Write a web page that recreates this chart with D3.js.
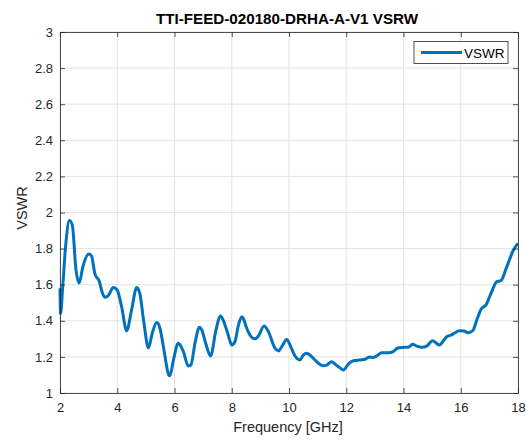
<!DOCTYPE html>
<html>
<head>
<meta charset="utf-8">
<script src="https://cdn.jsdelivr.net/npm/d3@7"></script>
<style>
body{margin:0;background:#fff;}
svg{display:block;font-family:"Liberation Sans",Arial,sans-serif;}
</style>
</head>
<body>
<div id="chart"></div>
<script>
// data
var freq=[2.0,2.02,2.1,2.2,2.33,2.43,2.56,2.67,2.8,3.0,3.1,3.22,3.37,3.47,3.57,3.69,3.86,4.0,4.15,4.33,4.5,4.68,4.79,4.93,5.09,5.22,5.38,5.49,5.63,5.8,5.84,5.96,6.13,6.31,6.48,6.57,6.72,6.87,6.95,7.1,7.26,7.45,7.61,7.71,7.86,8.0,8.11,8.24,8.35,8.4,8.52,8.64,8.81,8.93,9.13,9.28,9.51,9.63,9.75,9.92,10.06,10.21,10.38,10.5,10.62,10.73,10.97,11.2,11.32,11.49,11.61,11.76,11.9,12.07,12.25,12.48,12.66,12.83,12.94,13.06,13.24,13.47,13.64,13.78,13.88,14.05,14.17,14.32,14.46,14.64,14.81,15.02,15.25,15.51,15.65,15.8,15.95,16.11,16.26,16.42,16.56,16.71,16.88,17.08,17.26,17.4,17.61,17.84,18.0];
var vswr=[1.58,1.44,1.6,1.82,1.955,1.93,1.68,1.61,1.7,1.77,1.76,1.66,1.62,1.56,1.53,1.54,1.585,1.57,1.48,1.345,1.46,1.585,1.55,1.39,1.25,1.33,1.39,1.36,1.24,1.1,1.095,1.18,1.275,1.23,1.15,1.155,1.28,1.364,1.35,1.27,1.205,1.35,1.427,1.40,1.33,1.266,1.284,1.38,1.423,1.414,1.36,1.32,1.30,1.316,1.371,1.34,1.248,1.233,1.257,1.297,1.257,1.205,1.183,1.21,1.22,1.21,1.173,1.151,1.155,1.173,1.16,1.142,1.127,1.16,1.179,1.183,1.187,1.20,1.196,1.205,1.223,1.223,1.229,1.248,1.251,1.253,1.253,1.27,1.26,1.253,1.26,1.29,1.266,1.312,1.32,1.334,1.345,1.343,1.334,1.345,1.404,1.464,1.488,1.561,1.617,1.622,1.70,1.792,1.829];
var xTicks=[2,4,6,8,10,12,14,16,18];
var yTicks=[1,1.2,1.4,1.6,1.8,2,2.2,2.4,2.6,2.8,3];
var title="TTI-FEED-020180-DRHA-A-V1 VSRW";
var xLabel="Frequency [GHz]";
var yLabel="VSWR";
var seriesName="VSWR";

var width=526,height=442;
var margin={left:60,right:8,top:32,bottom:49};
var axisCol="#262626";

var svg=d3.select("#chart").append("svg")
	.attr("width",width)
	.attr("height",height);

var x=d3.scaleLinear().domain([2,18]).range([margin.left,width-margin.right]);
var y=d3.scaleLinear().domain([1,3]).range([height-margin.bottom,margin.top]);

//grid
svg.append("g").selectAll("line").data(xTicks).enter().append("line")
	.attr("x1",function(d){return x(d);}).attr("x2",function(d){return x(d);})
	.attr("y1",y(1)).attr("y2",y(3))
	.attr("stroke","#e3e3e3").attr("stroke-width",1);
svg.append("g").selectAll("line").data(yTicks).enter().append("line")
	.attr("y1",function(d){return y(d);}).attr("y2",function(d){return y(d);})
	.attr("x1",x(2)).attr("x2",x(18))
	.attr("stroke","#e3e3e3").attr("stroke-width",1);

//curve
var line=d3.line()
	.x(function(d,i){return x(freq[i]);})
	.y(function(d){return y(d);})
	.curve(d3.curveMonotoneX);
svg.append("path")
	.datum(vswr)
	.attr("d",line)
	.attr("fill","none")
	.attr("stroke","#0072BD")
	.attr("stroke-width",3)
	.attr("stroke-linejoin","round");

//axes, ticks inward on all four sides
var noLabel=function(){return "";};
var axBottom=d3.axisBottom(x).tickValues(xTicks).tickSizeInner(-5).tickSizeOuter(0).tickPadding(10).tickFormat(d3.format("d"));
var axLeft=d3.axisLeft(y).tickValues(yTicks).tickSizeInner(-5).tickSizeOuter(0).tickPadding(7).tickFormat(function(d){return String(+d.toFixed(1));});
var axTop=d3.axisTop(x).tickValues(xTicks).tickSizeInner(-5).tickSizeOuter(0).tickFormat(noLabel);
var axRight=d3.axisRight(y).tickValues(yTicks).tickSizeInner(-5).tickSizeOuter(0).tickFormat(noLabel);

function styleAxis(g){
	g.selectAll("path").attr("stroke",axisCol).attr("stroke-width",0.8);
	g.selectAll("line").attr("stroke",axisCol).attr("stroke-width",0.8);
	g.selectAll("text").attr("fill",axisCol).style("font-size","13px").style("font-family","'Liberation Sans',Arial,sans-serif");
}
svg.append("g").attr("transform","translate(0,"+y(1)+")").call(axBottom).call(styleAxis);
svg.append("g").attr("transform","translate("+x(2)+",0)").call(axLeft).call(styleAxis);
svg.append("g").attr("transform","translate(0,"+y(3)+")").call(axTop).call(styleAxis);
svg.append("g").attr("transform","translate("+x(18)+",0)").call(axRight).call(styleAxis);

//title and labels
svg.append("text")
	.attr("x",287).attr("y",24)
	.attr("text-anchor","middle")
	.attr("font-weight","bold").attr("font-size","15.2px")
	.attr("fill","#000")
	.text(title);
svg.append("text")
	.attr("x",288).attr("y",432)
	.attr("text-anchor","middle")
	.attr("font-size","14.5px").attr("fill",axisCol)
	.text(xLabel);
svg.append("text")
	.attr("transform","translate(27,208) rotate(-90)")
	.attr("text-anchor","middle")
	.attr("font-size","14.5px").attr("fill",axisCol)
	.text(yLabel);

//legend
var lg=svg.append("g").attr("transform","translate(414,41.5)");
lg.append("rect").attr("width",94).attr("height",22)
	.attr("fill","#fff").attr("stroke",axisCol).attr("stroke-width",0.8);
lg.append("line").attr("x1",7).attr("x2",48).attr("y1",11).attr("y2",11)
	.attr("stroke","#0072BD").attr("stroke-width",3);
lg.append("text").attr("x",50).attr("y",16).attr("font-size","13.5px").attr("fill","#000")
	.text(seriesName);
</script>
</body>
</html>
